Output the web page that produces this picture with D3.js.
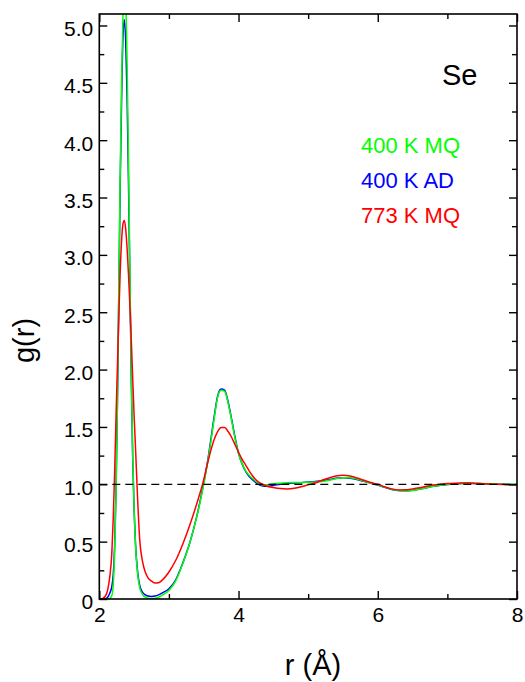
<!DOCTYPE html>
<html>
<head>
<meta charset="utf-8">
<script src="https://cdn.jsdelivr.net/npm/d3@7"></script>
<style>
  html, body { margin: 0; padding: 0; background: #fff; }
  svg { display: block; }
</style>
</head>
<body>
<svg id="chart" width="525" height="682"></svg>
<script>
// Pair distribution functions g(r) of amorphous / liquid Se
const rValues = [
  2.00, 2.05, 2.10, 2.12, 2.15, 2.18,
  2.20, 2.22, 2.24, 2.26, 2.28, 2.30, 2.32, 2.34, 2.36, 2.38, 2.40, 2.42, 2.44, 2.46, 2.48, 2.50, 2.52,
  2.55, 2.58, 2.62, 2.66, 2.70, 2.75, 2.80, 2.85, 2.90,
  3.00, 3.10, 3.20, 3.30, 3.40,
  3.45, 3.50, 3.55, 3.60, 3.65, 3.70, 3.75, 3.80, 3.85, 3.90, 3.95, 4.00, 4.05, 4.10, 4.15, 4.20, 4.25, 4.30, 4.35,
  4.40, 4.50, 4.60, 4.70, 4.80, 4.90, 5.00, 5.10, 5.20, 5.30, 5.40, 5.50, 5.60, 5.70, 5.80, 5.90,
  6.00, 6.10, 6.20, 6.30, 6.40, 6.50, 6.60, 6.70, 6.80, 6.90, 7.00, 7.10, 7.20, 7.30, 7.40, 7.50,
  7.60, 7.70, 7.80, 7.90, 8.00
];

const g400MQ = [
  0, 0, 0, 0, 0.005, 0.03,
  0.12, 0.40, 0.90, 1.70, 2.70, 3.70, 4.50, 5.10, 5.35, 5.20, 4.65, 3.80, 2.85, 1.95, 1.25, 0.78, 0.47,
  0.22, 0.10, 0.04, 0.016, 0.007, 0.004, 0.006, 0.015, 0.032,
  0.075, 0.16, 0.31, 0.49, 0.72,
  0.85, 1.00, 1.17, 1.36, 1.57, 1.76, 1.82, 1.81, 1.71, 1.56, 1.40, 1.27, 1.18, 1.12, 1.08, 1.05, 1.025, 1.005, 0.995,
  0.995, 1.005, 1.01, 1.013, 1.015, 1.016, 1.018, 1.02, 1.025, 1.035, 1.048, 1.058, 1.058, 1.045, 1.028, 1.012,
  0.995, 0.975, 0.957, 0.946, 0.942, 0.946, 0.957, 0.97, 0.983, 0.992, 0.998, 1.004, 1.008, 1.01, 1.008, 1.006,
  1.004, 1.002, 1.0, 1.0, 1.0
];

const g400AD = [
  0, 0, 0.005, 0.015, 0.05, 0.11,
  0.21, 0.46, 0.95, 1.70, 2.65, 3.60, 4.35, 4.90, 5.05, 4.85, 4.35, 3.60, 2.75, 1.90, 1.22, 0.78, 0.48,
  0.24, 0.12, 0.06, 0.036, 0.026, 0.022, 0.026, 0.036, 0.052,
  0.09, 0.17, 0.315, 0.49, 0.72,
  0.86, 1.01, 1.18, 1.38, 1.59, 1.77, 1.83, 1.82, 1.72, 1.57, 1.41, 1.27, 1.18, 1.115, 1.07, 1.04, 1.015, 0.995, 0.985,
  0.982, 0.99, 1.0, 1.008, 1.012, 1.014, 1.02, 1.025, 1.03, 1.04, 1.052, 1.056, 1.052, 1.042, 1.026, 1.01,
  0.993, 0.973, 0.955, 0.945, 0.943, 0.948, 0.958, 0.97, 0.982, 0.992, 0.998, 1.003, 1.007, 1.009, 1.008, 1.005,
  1.003, 1.001, 1.0, 0.998, 0.998
];

const g773MQ = [
  0, 0.005, 0.04, 0.08, 0.19, 0.40,
  0.70, 1.10, 1.58, 2.02, 2.45, 2.85, 3.12, 3.27, 3.30, 3.22, 3.05, 2.82, 2.55, 2.25, 1.92, 1.60, 1.32,
  0.88, 0.52, 0.33, 0.235, 0.185, 0.155, 0.14, 0.142, 0.162,
  0.235, 0.34, 0.48, 0.645, 0.83,
  0.93, 1.04, 1.17, 1.29, 1.39, 1.46, 1.495, 1.495, 1.46, 1.41, 1.345, 1.28, 1.22, 1.17, 1.12, 1.075, 1.04, 1.015, 0.998,
  0.985, 0.972, 0.963, 0.96, 0.965, 0.978, 0.995, 1.012, 1.035, 1.055, 1.072, 1.078, 1.072, 1.055, 1.035, 1.015,
  1.0, 0.978, 0.96, 0.951, 0.952, 0.96, 0.97, 0.982, 0.993, 1.0, 1.006, 1.01, 1.012, 1.011, 1.008, 1.005,
  1.002, 1.0, 0.998, 0.997, 0.997
];

const seriesNames  = ["400 K MQ", "400 K AD", "773 K MQ"];
const seriesColors = ["#00ff00", "#0000ff", "#ff0000"];
const systemLabel  = "Se";

const xMajorTicks = [2, 4, 6, 8];
const xMinorTicks = [3, 5, 7];
const yMajorTicks = [0, 0.5, 1.0, 1.5, 2.0, 2.5, 3.0, 3.5, 4.0, 4.5, 5.0];
const yMinorTicks = [0.25, 0.75, 1.25, 1.75, 2.25, 2.75, 3.25, 3.75, 4.25, 4.75];

const FONT = "'Liberation Sans', Arial, Helvetica, sans-serif";

const svg = d3.select("#chart");
const plot = { left: 99.3, right: 517, top: 14, bottom: 599 };

const x = d3.scaleLinear().domain([2, 8]).range([plot.left, plot.right]);
const y = d3.scaleLinear().domain([0, 5.1]).range([plot.bottom, plot.top]);

svg.append("defs").append("clipPath").attr("id", "plot-clip")
  .append("rect")
  .attr("x", plot.left).attr("y", plot.top)
  .attr("width", plot.right - plot.left).attr("height", plot.bottom - plot.top);

// Curves: blue underneath, then green, then red
const series = [
  { name: seriesNames[1], color: seriesColors[1], g: g400AD },
  { name: seriesNames[0], color: seriesColors[0], g: g400MQ },
  { name: seriesNames[2], color: seriesColors[2], g: g773MQ }
];

const line = d3.line()
  .x(d => x(d[0]))
  .y(d => y(d[1]))
  .curve(d3.curveMonotoneX);

const curves = svg.append("g").attr("clip-path", "url(#plot-clip)");
series.forEach(s => {
  const pts = rValues.map((r, i) => [r, s.g[i]]);
  curves.append("path")
    .datum(pts)
    .attr("d", line)
    .attr("fill", "none")
    .attr("stroke", s.color)
    .attr("stroke-width", 1.5)
    .attr("stroke-linejoin", "round");
});

// Reference line g(r) = 1
svg.append("line")
  .attr("x1", x(2)).attr("x2", x(8))
  .attr("y1", y(1)).attr("y2", y(1))
  .attr("stroke", "#000")
  .attr("stroke-width", 1.2)
  .attr("stroke-dasharray", "8,5");

// Axes with inward ticks on all four sides
function styleAxis(g) {
  g.select(".domain").remove();
  g.selectAll(".tick line").attr("stroke", "#000").attr("stroke-width", 1.4);
  g.selectAll(".tick text")
    .attr("fill", "#000")
    .style("font-family", FONT)
    .style("font-size", "21px");
}

svg.append("g")
  .attr("transform", `translate(0,${plot.bottom})`)
  .call(d3.axisBottom(x).tickValues(xMajorTicks).tickSize(-8).tickPadding(8).tickFormat(d3.format("d")))
  .call(styleAxis);
svg.append("g")
  .attr("transform", `translate(0,${plot.bottom})`)
  .call(d3.axisBottom(x).tickValues(xMinorTicks).tickSize(-5).tickFormat(""))
  .call(styleAxis);
svg.append("g")
  .attr("transform", `translate(0,${plot.top})`)
  .call(d3.axisTop(x).tickValues(xMajorTicks).tickSize(-8).tickFormat(""))
  .call(styleAxis);
svg.append("g")
  .attr("transform", `translate(0,${plot.top})`)
  .call(d3.axisTop(x).tickValues(xMinorTicks).tickSize(-5).tickFormat(""))
  .call(styleAxis);

svg.append("g")
  .attr("transform", `translate(${plot.left},0)`)
  .call(d3.axisLeft(y).tickValues(yMajorTicks).tickSize(-8).tickPadding(6)
        .tickFormat(d => d === 0 ? "0" : d3.format(".1f")(d)))
  .call(styleAxis)
  .call(g => g.selectAll(".tick text").attr("dy", "0.47em"));
svg.append("g")
  .attr("transform", `translate(${plot.left},0)`)
  .call(d3.axisLeft(y).tickValues(yMinorTicks).tickSize(-5).tickFormat(""))
  .call(styleAxis);
svg.append("g")
  .attr("transform", `translate(${plot.right},0)`)
  .call(d3.axisRight(y).tickValues(yMajorTicks).tickSize(-8).tickFormat(""))
  .call(styleAxis);
svg.append("g")
  .attr("transform", `translate(${plot.right},0)`)
  .call(d3.axisRight(y).tickValues(yMinorTicks).tickSize(-5).tickFormat(""))
  .call(styleAxis);

// Frame
svg.append("rect")
  .attr("x", plot.left).attr("y", plot.top)
  .attr("width", plot.right - plot.left).attr("height", plot.bottom - plot.top)
  .attr("fill", "none")
  .attr("stroke", "#000")
  .attr("stroke-width", 1.6);

// Axis titles
svg.append("text")
  .attr("x", 313).attr("y", 675)
  .attr("text-anchor", "middle")
  .style("font-family", FONT).style("font-size", "29px")
  .text("r (Å)");

svg.append("text")
  .attr("transform", "translate(34,340.5) rotate(-90)")
  .attr("text-anchor", "middle")
  .style("font-family", FONT).style("font-size", "29px")
  .text("g(r)");

// System label and legend
svg.append("text")
  .attr("x", 442).attr("y", 85)
  .style("font-family", FONT).style("font-size", "29px")
  .text(systemLabel);

const legendOrder = [0, 1, 2];
svg.append("g").selectAll("text")
  .data(legendOrder)
  .join("text")
  .attr("x", 361)
  .attr("y", (d, i) => 153.3 + i * 34.7)
  .attr("fill", d => seriesColors[d])
  .style("font-family", FONT).style("font-size", "22px")
  .text(d => seriesNames[d]);
</script>
</body>
</html>
